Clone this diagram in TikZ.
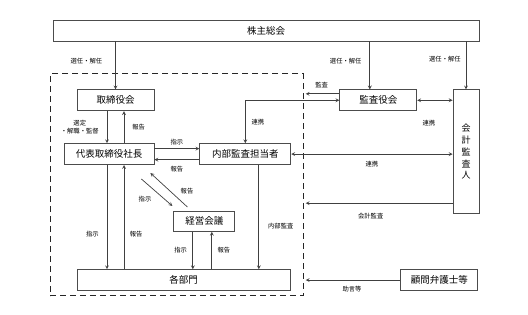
\documentclass[tikz,border=0pt]{standalone}
\usepackage{fontspec}
\setmainfont{Noto Sans CJK JP}
\usetikzlibrary{arrows,positioning}

\begin{document}
\begin{tikzpicture}[
    x=1pt, y=1pt,
    box/.style={rectangle, draw=black!70, line width=0.8pt, inner sep=0pt, minimum height=21pt, font=\fontsize{9.5}{11}\selectfont},
    lbl/.style={inner sep=0pt, font=\fontsize{6.3}{8}\selectfont},
    arrow/.style={->, >=stealth, draw=black!75, line width=0.7pt},
    both/.style={<->, >=stealth, draw=black!75, line width=0.7pt}
]
    \useasboundingbox (0,0) rectangle (528,-315);

    \node[box, minimum width=426pt] (meeting) at (266,-30.5) {株主総会};
    \node[rectangle, draw=black!85, dash pattern=on 6pt off 4pt, line width=1.1pt, inner sep=0pt, minimum width=253pt, minimum height=222pt, below right=32pt and -3pt of meeting.south west] (company) {};

    \node[box, minimum width=77pt, below right=48pt and 24pt of meeting.south west] (board) {取締役会};
    \node[box, minimum width=90pt, below left=32pt and 0pt of board.south east] (ceo) {代表取締役社長};
    \node[box, minimum width=91pt, right=45pt of ceo] (audit) {内部監査担当者};
    \node[box, minimum width=61pt, minimum height=20pt, below right=46pt and 19pt of ceo.south east] (council) {経営会議};
    \node[box, minimum width=213pt, below right=158pt and 0pt of board.south west] (depts) {各部門};

    \node[box, minimum width=77pt, right=185pt of board] (kansayaku) {監査役会};
    \node[box, minimum width=26pt, minimum height=124pt, align=center, font=\fontsize{9}{11.75}\selectfont, below left=48pt and 0pt of meeting.south east] (accountant) {会\\計\\監\\査\\人};
    \node[box, minimum width=77pt, right=110pt of depts] (lawyer) {顧問弁護士等};

    % election lines
    \coordinate (kx) at ([xshift=-8.5pt]kansayaku.north);
    \draw[arrow] (meeting.south -| board.north) -- node[lbl, left=13pt, pos=0.42] {選任・解任} (board.north);
    \draw[arrow] (meeting.south -| kx) -- node[lbl, left=8pt, pos=0.42] {選任・解任} (kx);
    \draw[arrow] (meeting.south -| accountant.north) -- node[lbl, left=5pt, pos=0.36] {選任・解任} (accountant.north);

    % inside the company
    \coordinate (down) at ([xshift=-8.5pt]board.south);
    \coordinate (up) at ([xshift=8.5pt]board.south);
    \draw[arrow] (down) -- node[lbl, left=8pt, align=center] {選定\\・解職・監督} (down |- ceo.north);
    \draw[arrow] (up |- ceo.north) -- node[lbl, right=8pt] {報告} (up);

    \draw[arrow] ([yshift=5.5pt]ceo.east) -- node[lbl, above=3pt] {指示} ([yshift=5.5pt]audit.west);
    \draw[arrow] ([yshift=-5.5pt]audit.west) -- node[lbl, below=6pt] {報告} ([yshift=-5.5pt]ceo.east);

    \draw[arrow] ([shift={(-13pt,-14pt)}]ceo.south east) -- node[lbl, left=13pt, pos=0.75] {指示} ([shift={(-1pt,5pt)}]council.north west);
    \draw[arrow] ([shift={(14pt,4pt)}]council.north west) -- node[lbl, right=10pt, pos=0.46] {報告} ([shift={(-4pt,-8pt)}]ceo.south east);

    \draw[arrow] (down |- ceo.south) -- node[lbl, left=8pt, pos=0.66] {指示} (down |- depts.north);
    \draw[arrow] (up |- depts.north) -- node[lbl, right=5.5pt, pos=0.34] {報告} (up |- ceo.south);

    \coordinate (cdown) at ([xshift=-11.5pt]council.south);
    \coordinate (cup) at ([xshift=7.5pt]council.south);
    \draw[arrow] (cdown) -- node[lbl, left=5.5pt] {指示} (cdown |- depts.north);
    \draw[arrow] (cup |- depts.north) -- node[lbl, right=5.5pt] {報告} (cup);

    \coordinate (adown) at ([xshift=13.5pt]audit.south);
    \draw[arrow] (adown) -- node[lbl, right=9pt, pos=0.59] {内部監査} (adown |- depts.north);

    % outside the company
    \coordinate (ka) at ([yshift=6.5pt]kansayaku.west);
    \draw[arrow, shorten >=2pt] (ka) -- node[lbl, above=6pt] {監査} (ka -| company.east);
    \draw[both] (kansayaku.west) -| node[lbl, right=6pt, pos=0.75] {連携} (audit.north);
    \draw[both] (kansayaku.east) -- node[lbl, below=20pt, pos=0.33] {連携} (kansayaku.east -| accountant.west);
    \draw[both] (audit.east) -- node[lbl, below=7pt] {連携} (audit.east -| accountant.west);

    \coordinate (ac) at ([yshift=11pt]accountant.south west);
    \draw[arrow, shorten >=2pt] (ac) -- node[lbl, below=10pt, pos=0.55] {会計監査} (ac -| company.east);
    \draw[arrow, shorten >=2pt] (lawyer.west) -- node[lbl, below=6pt] {助言等} (lawyer.west -| company.east);
\end{tikzpicture}
\end{document}
